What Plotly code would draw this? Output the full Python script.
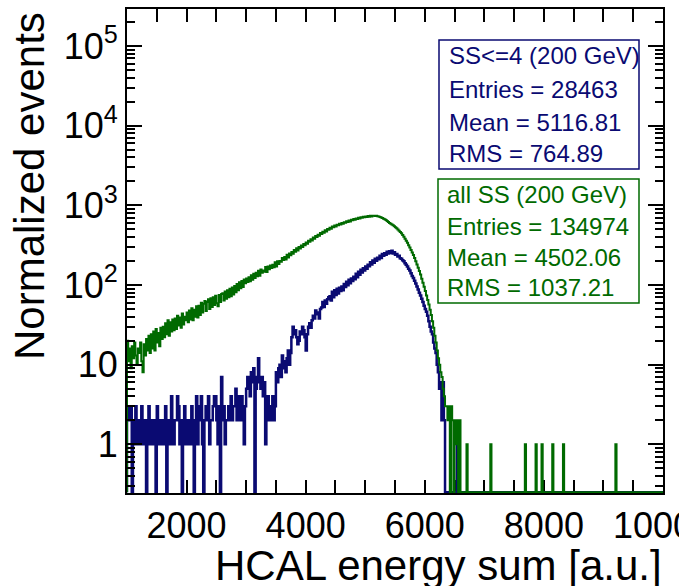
import plotly.graph_objects as go

# ---------------- data ----------------
E_START = 1000          # first bin edge [a.u.]
BIN_W = 20              # bin width [a.u.]
N_BINS = 450            # 1000 .. 10000

# all SS (200 GeV): bin contents from 1000 to 6600
green_main = [
    20, 11, 16, 9, 17, 12, 19, 13, 10, 16,
    14, 19, 11, 8, 18, 13, 21, 15, 23, 14,
    24, 16, 26, 15, 28, 19, 25, 17, 29, 21,
    30, 22, 33, 24, 36, 23, 34, 26, 37, 27,
    38, 28, 41, 31, 39, 29, 44, 32, 40, 36,
    45, 34, 48, 37, 51, 36, 49, 40, 54, 39,
    55, 42, 60, 45, 58, 63, 47, 61, 66, 50,
    68, 53, 70, 56, 73, 59, 54, 75, 61, 77,
    79, 64, 83, 67, 86, 70, 90, 72, 93, 76,
    97, 81, 103, 86, 108, 91, 112, 94, 117, 105,
    121, 109, 125, 111, 132, 116, 138, 122, 142, 129,
    151, 131, 156, 142, 152, 147, 168, 145, 170, 158,
    175, 163, 180, 167, 193, 171, 198, 184, 200, 195,
    218, 206, 224, 209, 240, 221, 248, 236, 259, 247,
    274, 261, 289, 270, 300, 286, 313, 300, 327, 316,
    342, 330, 360, 348, 375, 362, 393, 380, 412, 400,
    428, 416, 448, 435, 466, 452, 486, 470, 505, 493,
    522, 508, 541, 529, 556, 542, 572, 560, 587, 575,
    600, 588, 614, 602, 630, 618, 644, 628, 660, 648,
    672, 658, 685, 673, 698, 684, 709, 696, 720, 706,
    724, 712, 734, 720, 740, 726, 738, 742, 732, 737,
    727, 722, 712, 703, 692, 680, 667, 652, 636, 618,
    600, 588, 574, 560, 546, 532, 515, 497, 480, 462,
    445, 425, 402, 380, 358, 338, 316, 295, 275, 256,
    238, 218, 198, 181, 164, 150, 135, 120, 107, 95,
    84, 74, 65, 57, 49, 42, 35, 29, 23, 19,
    15, 12, 10, 8, 7, 5, 4, 3, 3, 2,
    3, 0, 3, 2, 0, 2, 1, 2, 0, 2,
]
# isolated single entries of "all SS" above 6600 (bin left edges)
green_tail_edges = [6700, 7100, 7680, 7860, 7960, 8140, 8320, 9200]

# SS<=4 (200 GeV): bin contents from 1000 to 6600
blue_main = [
    3, 3, 2, 3, 0, 2, 1, 3, 2, 1,
    2, 1, 3, 2, 1, 2, 0, 2, 3, 1,
    2, 1, 2, 2, 0, 3, 1, 2, 1, 2,
    1, 2, 3, 0, 2, 2, 1, 4, 2, 1,
    2, 2, 4, 3, 1, 2, 0, 2, 3, 1,
    2, 1, 2, 1, 3, 2, 0, 2, 4, 1,
    2, 3, 4, 1, 0, 2, 3, 2, 4, 1,
    2, 2, 3, 4, 4, 2, 1, 3, 0, 7,
    2, 3, 1, 2, 2, 3, 2, 4, 2, 3,
    3, 5, 2, 4, 3, 2, 4, 2, 1, 3,
    5, 7, 6, 4, 8, 6, 9, 0, 5, 7,
    12, 6, 5, 7, 4, 6, 1, 3, 4, 2,
    3, 2, 4, 2, 3, 8, 6, 9, 10, 7,
    13, 9, 11, 8, 12, 15, 10, 14, 22, 30,
    24, 27, 22, 18, 20, 26, 24, 30, 27, 22,
    15, 24, 30, 33, 29, 36, 41, 38, 48, 43,
    45, 38, 50, 52, 61, 53, 64, 58, 66, 70,
    72, 64, 82, 70, 86, 75, 90, 78, 92, 84,
    96, 86, 103, 94, 110, 99, 116, 105, 121, 112,
    127, 118, 138, 125, 147, 134, 155, 143, 162, 152,
    170, 160, 180, 172, 193, 181, 203, 190, 214, 201,
    220, 210, 233, 218, 245, 232, 250, 240, 262, 248,
    266, 252, 268, 249, 257, 240, 245, 228, 232, 216,
    214, 205, 198, 188, 180, 170, 160, 152, 140, 130,
    122, 113, 104, 96, 88, 80, 74, 67, 61, 55,
    50, 46, 41, 35, 30, 26, 24, 19, 16, 14,
    10, 8, 5, 6, 2, 6, 2, 0, 0, 0,
    0, 0, 0, 0, 0, 0, 0, 1, 0, 0,
]
blue_tail_edges = []

y_major_vals = [1, 10, 100, 1000, 10000, 100000]
y_major_text = ["1", "10", "10<sup>2</sup>", "10<sup>3</sup>", "10<sup>4</sup>", "10<sup>5</sup>"]
x_major_vals = [2000, 4000, 6000, 8000, 10000]
x_major_text = ["2000", "4000", "6000", "8000", "10000"]

blue_stats = ["SS&lt;=4 (200 GeV)", "Entries = 28463", "Mean = 5116.81", "RMS = 764.89"]
green_stats = ["all SS (200 GeV)", "Entries = 134974", "Mean = 4502.06", "RMS = 1037.21"]

# ---------------- style ----------------
BLUE = "#0a0a72"
GREEN = "#006a00"
FONT = "Liberation Sans, Arial, Helvetica, sans-serif"
Y_LOG_RANGE = [-0.611, 5.464]
ZERO_LEVEL = 10 ** (Y_LOG_RANGE[0] + 0.01)   # empty bins drawn on the frame bottom (ROOT style)

W, H = 679, 586
L, R, T, B = 127, 663, 9, 493   # plot frame in pixels


def px_x(p):
    return (p - L) / (R - L)


def px_y(p):
    return (B - p) / (B - T)


def step_xy(main, tail_edges):
    counts = list(main) + [0] * (N_BINS - len(main))
    for e in tail_edges:
        counts[(e - E_START) // BIN_W] = 1
    edges = [E_START + i * BIN_W for i in range(N_BINS + 1)]
    xs = [edges[0]] + edges[:-1] + [edges[-1]]
    ys = [ZERO_LEVEL] + [c if c > 0 else ZERO_LEVEL for c in counts] + [ZERO_LEVEL]
    return xs, ys


fig = go.Figure()
bx, by = step_xy(blue_main, blue_tail_edges)
gx, gy = step_xy(green_main, green_tail_edges)
fig.add_trace(go.Scatter(x=bx, y=by, mode="lines", line=dict(color=BLUE, width=2.5, shape="hv"),
                         showlegend=False, hoverinfo="skip"))
fig.add_trace(go.Scatter(x=gx, y=gy, mode="lines", line=dict(color=GREEN, width=2, shape="hv"),
                         showlegend=False, hoverinfo="skip"))
# invisible trace to carry the minor-tick log axis
fig.add_trace(go.Scatter(x=[5000], y=[1], yaxis="y2", mode="markers", marker=dict(opacity=0),
                         showlegend=False, hoverinfo="skip"))

minor_vals = [m * 10 ** k for k in range(-1, 6) for m in range(2, 10)]

fig.update_layout(
    width=W, height=H,
    margin=dict(l=L, r=W - R, t=T, b=H - B, autoexpand=False),
    paper_bgcolor="white", plot_bgcolor="white",
    font=dict(family=FONT, color="black"),
    xaxis=dict(
        range=[1000, 10000], tickmode="array", tickvals=x_major_vals, ticktext=x_major_text,
        ticks="inside", ticklen=13, tickwidth=2, tickcolor="black",
        minor=dict(dtick=500, tick0=0, ticks="inside", ticklen=6, tickwidth=2, tickcolor="black"),
        showline=True, linewidth=2, linecolor="black", mirror="allticks",
        showgrid=False, zeroline=False, layer="below traces", ticklabeloverflow="allow",
        automargin=False,
        tickfont=dict(size=36, family=FONT, color="black"),
    ),
    yaxis=dict(
        type="log", range=Y_LOG_RANGE, tickmode="array", tickvals=y_major_vals, ticktext=y_major_text,
        ticks="inside", ticklen=15, tickwidth=2, tickcolor="black",
        showline=True, linewidth=2, linecolor="black", mirror="allticks",
        showgrid=False, zeroline=False, automargin=False,
        tickfont=dict(size=36, family=FONT, color="black"),
    ),
    yaxis2=dict(
        type="log", range=Y_LOG_RANGE, overlaying="y", side="left", tickmode="array",
        tickvals=minor_vals, showticklabels=False,
        ticks="inside", ticklen=8, tickwidth=2, tickcolor="black",
        showline=True, linewidth=2, linecolor="black", mirror="allticks",
        showgrid=False, zeroline=False, automargin=False,
    ),
)

# stat boxes
shapes = [
    dict(type="rect", xref="paper", yref="paper", x0=px_x(439), x1=px_x(639), y0=px_y(169), y1=px_y(40),
         line=dict(color=BLUE, width=1.5), fillcolor="white", layer="above"),
    dict(type="rect", xref="paper", yref="paper", x0=px_x(438), x1=px_x(639), y0=px_y(303), y1=px_y(179),
         line=dict(color=GREEN, width=1.5), fillcolor="white", layer="above"),
]
fig.update_layout(shapes=shapes)

ann = []
for txt, yc in zip(blue_stats, [55, 89, 122, 153]):
    ann.append(dict(text=txt, xref="paper", yref="paper", x=px_x(447), y=px_y(yc),
                    xanchor="left", yanchor="middle", showarrow=False,
                    font=dict(size=24, color=BLUE, family=FONT)))
for txt, yc in zip(green_stats, [194, 226, 257, 287]):
    ann.append(dict(text=txt, xref="paper", yref="paper", x=px_x(445), y=px_y(yc),
                    xanchor="left", yanchor="middle", showarrow=False,
                    font=dict(size=24, color=GREEN, family=FONT)))
# axis titles
ann.append(dict(text="Normalized events", xref="paper", yref="paper", x=px_x(30), y=px_y(186),
                xanchor="center", yanchor="middle", textangle=-90, showarrow=False,
                font=dict(size=42, color="black", family=FONT)))
ann.append(dict(text="HCAL energy sum [a.u.]", xref="paper", yref="paper", x=px_x(664), y=px_y(565),
                xanchor="right", yanchor="middle", showarrow=False,
                font=dict(size=42, color="black", family=FONT)))
fig.update_layout(annotations=ann)

fig.write_html("out.html")
